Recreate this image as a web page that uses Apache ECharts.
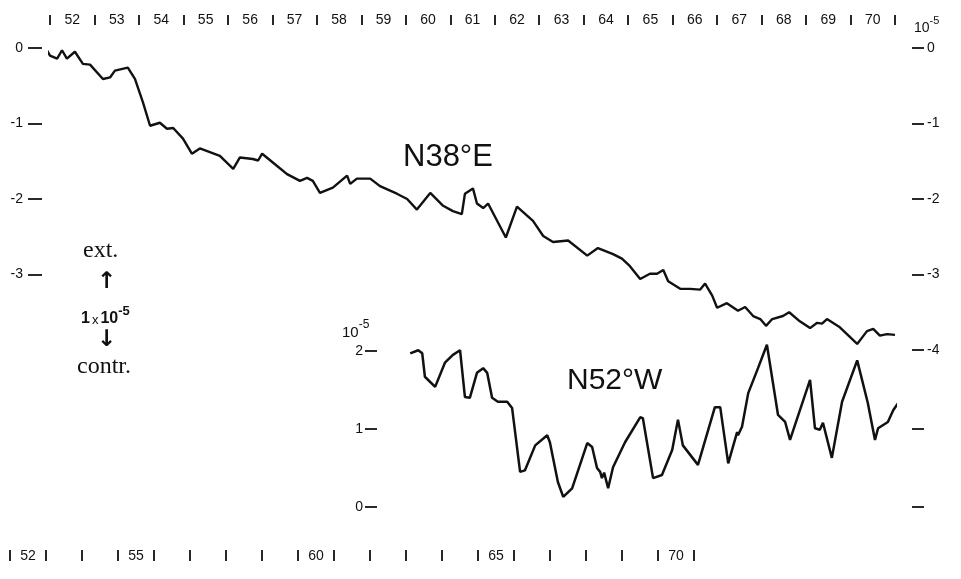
<!DOCTYPE html>
<html>
<head>
<meta charset="utf-8">
<script src="https://cdn.jsdelivr.net/npm/echarts@6/dist/echarts.min.js"></script>
<style>
  html, body { margin: 0; padding: 0; background: #fff; }
  #chart { width: 961px; height: 579px; }
</style>
</head>
<body>
<div id="chart"></div>
<script>
// year cells on the top and bottom scales
const years = ['52', '53', '54', '55', '56', '57', '58', '59', '60', '61',
  '62', '63', '64', '65', '66', '67', '68', '69', '70']
const bottomYears = ['52', '55', '60', '65', '70']

// tick labels (units of 1e-5)
const n38LeftTicks = [0, -1, -2, -3]
const n38RightTicks = [0, -1, -2, -3, -4]
const n52LeftTicks = [2, 1, 0]
const n52RightTicks = [1, 0]

// N38°E strain
const n38Years = [51.73, 51.89, 52.00, 52.16, 52.27, 52.38, 52.56, 52.74, 52.90, 53.19,
  53.35, 53.46, 53.75, 53.91, 54.09, 54.25, 54.47, 54.63, 54.77, 54.99,
  55.19, 55.37, 55.82, 56.12, 56.27, 56.56, 56.68, 56.77, 57.10, 57.33,
  57.62, 57.78, 57.91, 58.07, 58.36, 58.68, 58.75, 58.90, 59.20, 59.42,
  59.80, 60.03, 60.25, 60.55, 60.84, 61.06, 61.26, 61.33, 61.51, 61.60,
  61.74, 61.85, 62.25, 62.50, 62.86, 63.09, 63.31, 63.65, 64.08, 64.32,
  64.66, 64.86, 65.04, 65.27, 65.49, 65.65, 65.79, 65.90, 66.17, 66.39,
  66.62, 66.73, 66.89, 67.00, 67.22, 67.47, 67.63, 67.81, 67.97, 68.10,
  68.24, 68.48, 68.62, 68.86, 69.09, 69.25, 69.36, 69.47, 69.76, 70.15,
  70.37, 70.51, 70.66, 70.82, 71.00]
const n38Values = [0.11, 0.01, -0.10, -0.14, -0.03, -0.14, -0.05, -0.21, -0.22, -0.41,
  -0.39, -0.30, -0.26, -0.41, -0.72, -1.03, -0.99, -1.07, -1.06, -1.20,
  -1.40, -1.33, -1.43, -1.60, -1.45, -1.47, -1.49, -1.40, -1.56, -1.67,
  -1.76, -1.72, -1.76, -1.92, -1.85, -1.69, -1.80, -1.73, -1.73, -1.83,
  -1.93, -2.00, -2.14, -1.92, -2.09, -2.16, -2.20, -1.93, -1.86, -2.06,
  -2.12, -2.06, -2.51, -2.10, -2.29, -2.49, -2.57, -2.55, -2.75, -2.65,
  -2.73, -2.79, -2.89, -3.06, -2.99, -2.99, -2.94, -3.09, -3.19, -3.19,
  -3.20, -3.12, -3.28, -3.44, -3.38, -3.48, -3.43, -3.55, -3.59, -3.68,
  -3.59, -3.55, -3.50, -3.62, -3.71, -3.64, -3.65, -3.59, -3.70, -3.92,
  -3.75, -3.72, -3.81, -3.79, -3.80]

// N52°W strain
const n52Years = [60.10, 60.28, 60.37, 60.43, 60.66, 60.88, 61.06, 61.22, 61.33, 61.44,
  61.60, 61.74, 61.83, 61.94, 62.07, 62.28, 62.39, 62.57, 62.68, 62.91,
  63.18, 63.24, 63.42, 63.54, 63.74, 64.08, 64.19, 64.30, 64.37, 64.41,
  64.46, 64.55, 64.66, 64.93, 65.27, 65.33, 65.56, 65.76, 65.99, 66.12,
  66.23, 66.57, 66.95, 67.07, 67.25, 67.45, 67.47, 67.56, 67.70, 67.92,
  68.12, 68.37, 68.53, 68.64, 68.75, 69.09, 69.20, 69.31, 69.38, 69.58,
  69.81, 70.15, 70.39, 70.55, 70.62, 70.84, 70.96, 71.23]
const n52Values = [1.97, 2.01, 1.97, 1.67, 1.54, 1.85, 1.95, 2.01, 1.41, 1.40,
  1.72, 1.78, 1.72, 1.40, 1.35, 1.35, 1.27, 0.45, 0.47, 0.79,
  0.92, 0.83, 0.32, 0.13, 0.24, 0.82, 0.77, 0.50, 0.45, 0.37,
  0.44, 0.24, 0.51, 0.83, 1.15, 1.14, 0.37, 0.41, 0.73, 1.12,
  0.79, 0.54, 1.28, 1.28, 0.56, 0.96, 0.92, 1.03, 1.46, 1.78,
  2.08, 1.18, 1.09, 0.86, 1.05, 1.63, 1.01, 0.99, 1.08, 0.63,
  1.35, 1.88, 1.33, 0.86, 1.01, 1.09, 1.24, 1.47]

const ink = '#111'
const font = 'Liberation Sans'

const pairs = (xs, ys) => xs.map((x, i) => [x, ys[i]])

const tick = (len) => ({ show: true, length: len, lineStyle: { color: ink, width: 1.8 } })
const label = (margin) => ({ color: ink, fontFamily: font, fontSize: 14, margin: margin })
const noLine = { show: false, onZero: false }
const sup = (size, bold) => ({
  text: '{a|10}{b|-5}',
  rich: {
    a: { fontFamily: font, fontSize: size, fontWeight: bold, fill: ink, padding: [6, 0, 0, 0] },
    b: { fontFamily: font, fontSize: size - 3, fontWeight: bold, fill: ink, verticalAlign: 'top' }
  }
})

var myChart = echarts.init(document.getElementById('chart'))
myChart.setOption({
  backgroundColor: '#fff',
  animation: false,
  grid: [
    { left: 50, right: 66, top: 48, height: 302, outerBoundsMode: 'none' },
    { left: 50, right: 66, top: 351, height: 156, outerBoundsMode: 'none' },
    { left: 10, right: 267, top: 351, height: 156, outerBoundsMode: 'none' }
  ],
  xAxis: [
    {
      gridIndex: 0,
      type: 'category',
      data: years,
      position: 'top',
      offset: 23,
      axisLine: noLine,
      axisTick: Object.assign(tick(10), { interval: 0 }),
      axisLabel: Object.assign(label(5), { interval: 0, verticalAlign: 'middle' }),
      splitLine: { show: false }
    },
    { gridIndex: 0, type: 'value', min: 52, max: 71, show: false },
    { gridIndex: 1, type: 'value', min: 52, max: 71, show: false },
    {
      gridIndex: 2,
      type: 'category',
      data: years,
      position: 'bottom',
      offset: 43,
      axisLine: noLine,
      axisTick: Object.assign(tick(11), { interval: 0 }),
      axisLabel: Object.assign(label(6), {
        interval: 0,
        verticalAlign: 'middle',
        formatter: v => (bottomYears.indexOf(v) >= 0 ? v : '')
      }),
      splitLine: { show: false }
    }
  ],
  yAxis: [
    {
      gridIndex: 0, type: 'value', min: -4, max: 0, position: 'left', offset: 8,
      axisLine: noLine,
      axisTick: Object.assign(tick(14), { customValues: n38LeftTicks }),
      axisLabel: Object.assign(label(19), { customValues: n38LeftTicks }),
      splitLine: { show: false }
    },
    {
      gridIndex: 0, type: 'value', min: -4, max: 0, position: 'right', offset: 17,
      axisLine: noLine,
      axisTick: Object.assign(tick(12), { customValues: n38RightTicks }),
      axisLabel: Object.assign(label(15), { customValues: n38RightTicks }),
      splitLine: { show: false }
    },
    {
      gridIndex: 1, type: 'value', min: 0, max: 2, position: 'left', offset: -327,
      axisLine: noLine,
      axisTick: Object.assign(tick(12), { customValues: n52LeftTicks }),
      axisLabel: Object.assign(label(14), { customValues: n52LeftTicks }),
      splitLine: { show: false }
    },
    {
      gridIndex: 1, type: 'value', min: 0, max: 2, position: 'right', offset: 17,
      axisLine: noLine,
      axisTick: Object.assign(tick(12), { customValues: n52RightTicks }),
      axisLabel: { show: false },
      splitLine: { show: false }
    },
    { gridIndex: 2, type: 'value', min: 0, max: 1, show: false }
  ],
  series: [
    {
      name: 'N38°E',
      type: 'line',
      xAxisIndex: 1,
      yAxisIndex: 0,
      data: pairs(n38Years, n38Values),
      showSymbol: false,
      clip: false,
      lineStyle: { color: ink, width: 2.4 }
    },
    {
      name: 'N52°W',
      type: 'line',
      xAxisIndex: 2,
      yAxisIndex: 2,
      data: pairs(n52Years, n52Values),
      showSymbol: false,
      clip: false,
      lineStyle: { color: ink, width: 2.5 }
    }
  ],
  graphic: [
    { type: 'text', left: 403, top: 142, style: { text: 'N38°E', font: '31px "Liberation Sans"', fill: ink } },
    { type: 'text', left: 567, top: 366, style: { text: 'N52°W', font: '30px "Liberation Sans"', fill: ink } },
    { type: 'text', left: 914, top: 15, style: sup(14, 'normal') },
    { type: 'text', left: 342, top: 319, style: sup(15, 'normal') },
    { type: 'text', left: 83, top: 239, style: { text: 'ext.', font: '24px "Liberation Serif"', fill: ink } },
    { type: 'text', left: 97, top: 271, style: { text: '↑', font: 'bold 23px "DejaVu Sans"', fill: ink } },
    {
      type: 'text', left: 81, top: 305,
      style: {
        text: '{a|1}{c|x}{a|10}{b|-5}',
        rich: {
          a: { fontFamily: font, fontSize: 16, fontWeight: 'bold', fill: ink, padding: [6, 0, 0, 0] },
          c: { fontFamily: font, fontSize: 13, fill: ink, padding: [8, 2, 0, 2] },
          b: { fontFamily: font, fontSize: 13, fontWeight: 'bold', fill: ink, verticalAlign: 'top' }
        }
      }
    },
    { type: 'text', left: 97, top: 329, style: { text: '↓', font: 'bold 23px "DejaVu Sans"', fill: ink } },
    { type: 'text', left: 77, top: 355, style: { text: 'contr.', font: '24px "Liberation Serif"', fill: ink } }
  ]
})
</script>
</body>
</html>
